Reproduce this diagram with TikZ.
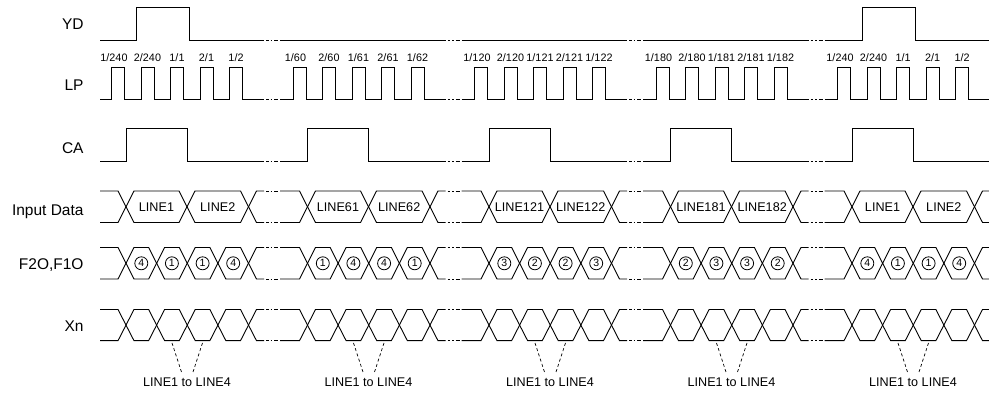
\documentclass[tikz,border=0pt]{standalone}
\usepackage{fontspec}
\setmainfont{Liberation Sans}
\begin{document}
\begin{tikzpicture}[x=1pt,y=-1pt,line width=0.9pt,line join=miter,
  rowlbl/.style={anchor=base east,inner sep=0pt,font=\fontsize{15.5}{18}\selectfont},
  lptxt/.style={anchor=base,inner sep=0pt,font=\fontsize{10.8}{12}\selectfont},
  celltxt/.style={anchor=base,inner sep=0pt,font=\fontsize{12.6}{14}\selectfont},
  cnum/.style={draw,circle,line width=0.8pt,minimum size=13pt,inner sep=0pt,font=\fontsize{10.5}{11}\selectfont},
  grptxt/.style={anchor=base,inner sep=0pt,font=\fontsize{12.6}{14}\selectfont},
  dsh/.style={line width=0.7pt,dash pattern=on 3pt off 2.5pt}]
\useasboundingbox (0,0) rectangle (989,395);

% row labels
\node[rowlbl] (yd) at (84,29.3) {YD};
\node[rowlbl] (lp) at (84,90.7) {LP};
\node[rowlbl] (ca) at (84,154) {CA};
\node[rowlbl] (indata) at (84,216) {Input Data};
\node[rowlbl] (f2o) at (84,270) {F2O,F1O};
\node[rowlbl] (xn) at (84,331.7) {Xn};

% YD
\draw (100,40) -- (136.7,40) -- (136.7,7) -- (189.5,7) -- (189.5,40) -- (264,40);
\foreach \k in {1,2,3}{\pgfmathsetmacro\dd{181.5*\k}
  \draw (\dd+98.5,40) -- (\dd+264,40);}
\draw (824.5,40) -- (862.7,40) -- (862.7,7) -- (915.5,7) -- (915.5,40) -- (989,40);

% groups
\foreach \k in {0,...,4}{
  \pgfmathsetmacro\dd{181.5*\k}
  \pgfmathsetmacro\ss{\k==0 ? 100 : \dd+98.5}
  \pgfmathsetmacro\ee{\k==4 ? 989 : \dd+264}
  % LP
  \draw (\ss,99) foreach \i in {0,...,4}{ -- ({\dd+111.5+29.5*\i},99) -- ++(0,-32) -- ++(13,0) -- ++(0,32)} -- (\ee,99);
  % CA
  \draw (\ss,161) -- (\dd+126,161) -- (\dd+126,128) -- (\dd+187,128) -- (\dd+187,161) -- (\ee,161);
  % bus outer lines
  \foreach \T/\B in {191/222.5, 247.5/279, 309.5/340.7}{
    \pgfmathsetmacro\MM{(\T+\B)/2}
    \draw (\ss,\T) -- (\dd+118,\T) -- (\dd+126,\MM) -- (\dd+118,\B) -- (\ss,\B);
    \draw (\ee,\T) -- (\dd+256.5,\T) -- (\dd+248.5,\MM) -- (\dd+256.5,\B) -- (\ee,\B);
  }
  % data cells
  \foreach \pa/\pb in {126/187, 187/248.5}{
    \draw ({\dd+\pa},206.75) -- ({\dd+\pa+8},191) -- ({\dd+\pb-8},191) -- ({\dd+\pb},206.75) -- ({\dd+\pb-8},222.5) -- ({\dd+\pa+8},222.5) -- cycle;
  }
  % F2O and Xn cells
  \foreach \T/\B in {247.5/279, 309.5/340.7}{
    \pgfmathsetmacro\MM{(\T+\B)/2}
    \foreach \i in {0,...,3}{
      \pgfmathsetmacro\pa{\dd+126+30.625*\i}
      \pgfmathsetmacro\pb{\pa+30.625}
      \draw (\pa,\MM) -- (\pa+8,\T) -- (\pb-8,\T) -- (\pb,\MM) -- (\pb-8,\B) -- (\pa+8,\B) -- cycle;
    }
  }
  % dashed pointers and label
  \node[grptxt] (bt\k) at (\dd+187,386.7) {LINE1 to LINE4};
  \coordinate (ua\k) at (\dd+172,343);
  \coordinate (va\k) at (\dd+181.5,372);
  \coordinate (ub\k) at (\dd+202.5,343);
  \coordinate (vb\k) at (\dd+193,372);
  \draw[dsh] (ua\k) -- (va\k);
  \draw[dsh] (ub\k) -- (vb\k);
}

% breaks
\foreach \k in {0,...,3}{
  \pgfmathsetmacro\dd{181.5*\k}
  \foreach \y in {40,99,161,191,222.5,247.5,279,309.5,340.7}{
    \draw ({\dd+266},\y) -- ({\dd+268.5},\y) ({\dd+270.5},\y) -- ({\dd+272},\y) ({\dd+274},\y) -- ({\dd+278},\y);
  }
}

% LP labels
\foreach \k/\p/\q/\r in {0/240/1/2, 1/60/61/62, 2/120/121/122, 3/180/181/182, 4/240/1/2}{
  \pgfmathsetmacro\dd{181.5*\k}
  \node[lptxt] (lpa\k) at (\dd+114,61.5) {1/\p};
  \node[lptxt] (lpb\k) at (\dd+147.5,61.5) {2/\p};
  \node[lptxt] (lpc\k) at (\dd+177,61.5) {1/\q};
  \node[lptxt] (lpd\k) at (\dd+206.5,61.5) {2/\q};
  \node[lptxt] (lpe\k) at (\dd+236,61.5) {1/\r};
}

% data labels
\foreach \k/\la/\lb in {0/LINE1/LINE2, 1/LINE61/LINE62, 2/LINE121/LINE122, 3/LINE181/LINE182, 4/LINE1/LINE2}{
  \pgfmathsetmacro\dd{181.5*\k}
  \node[celltxt] (da\k) at (\dd+156.5,211.5) {\la};
  \node[celltxt] (db\k) at (\dd+217.75,211.5) {\lb};
}

% circled numbers
\foreach \k/\na/\nb in {0/4/1, 1/1/4, 2/3/2, 3/2/3, 4/4/1}{
  \pgfmathsetmacro\dd{181.5*\k}
  \node[cnum] (ca\k) at (\dd+141.3,263.3) {\na};
  \node[cnum] (cb\k) at (\dd+171.9,263.3) {\nb};
  \node[cnum] (cc\k) at (\dd+202.6,263.3) {\nb};
  \node[cnum] (cd\k) at (\dd+233.2,263.3) {\na};
}
\end{tikzpicture}
\end{document}
